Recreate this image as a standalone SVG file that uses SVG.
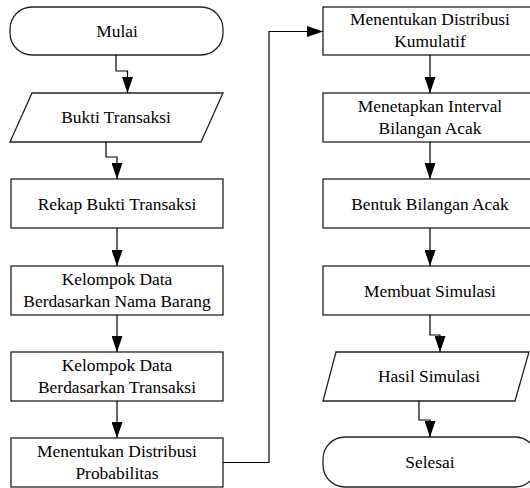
<svg xmlns="http://www.w3.org/2000/svg" width="530" height="488" viewBox="0 0 530 488">
<defs>
<marker id="ah" markerUnits="userSpaceOnUse" markerWidth="16" markerHeight="11" refX="16" refY="5.5" orient="auto">
<path d="M0,0 L16,5.5 L0,11 z" fill="#000"/>
</marker>
</defs>
<rect width="530" height="488" fill="#fff"/>
<g id="mulai"><rect fill="#fff" stroke="#222" stroke-width="1.3" x="10" y="7" width="213" height="48" rx="22"/><text font-family="Liberation Serif, Tinos, Times New Roman, serif" font-size="17.4" text-anchor="middle" x="117" y="37">Mulai</text></g>
<g id="bukti"><polygon fill="#fff" stroke="#222" stroke-width="1.3" points="32,93 223,93 201,142 10,142"/><text font-family="Liberation Serif, Tinos, Times New Roman, serif" font-size="17.4" text-anchor="middle" x="116" y="123">Bukti Transaksi</text></g>
<g id="rekap"><rect fill="#fff" stroke="#222" stroke-width="1.3" x="11" y="179" width="212" height="49"/><text font-family="Liberation Serif, Tinos, Times New Roman, serif" font-size="17.4" text-anchor="middle" x="117" y="209.5">Rekap Bukti Transaksi</text></g>
<g id="kelompok1"><rect fill="#fff" stroke="#222" stroke-width="1.3" x="11" y="266" width="212" height="49"/><text font-family="Liberation Serif, Tinos, Times New Roman, serif" font-size="17.4" text-anchor="middle" x="117" y="285">Kelompok Data</text><text font-family="Liberation Serif, Tinos, Times New Roman, serif" font-size="17.4" text-anchor="middle" x="117" y="306.5">Berdasarkan Nama Barang</text></g>
<g id="kelompok2"><rect fill="#fff" stroke="#222" stroke-width="1.3" x="11" y="352" width="212" height="49"/><text font-family="Liberation Serif, Tinos, Times New Roman, serif" font-size="17.4" text-anchor="middle" x="117" y="371">Kelompok Data</text><text font-family="Liberation Serif, Tinos, Times New Roman, serif" font-size="17.4" text-anchor="middle" x="117" y="392.5">Berdasarkan Transaksi</text></g>
<g id="probabilitas"><rect fill="#fff" stroke="#222" stroke-width="1.3" x="11" y="438" width="212" height="49"/><text font-family="Liberation Serif, Tinos, Times New Roman, serif" font-size="17.4" text-anchor="middle" x="117" y="457">Menentukan Distribusi</text><text font-family="Liberation Serif, Tinos, Times New Roman, serif" font-size="17.4" text-anchor="middle" x="117" y="478.5">Probabilitas</text></g>
<g id="kumulatif"><rect fill="#fff" stroke="#222" stroke-width="1.3" x="323" y="7" width="214" height="48"/><text font-family="Liberation Serif, Tinos, Times New Roman, serif" font-size="17.4" text-anchor="middle" x="430" y="25">Menentukan Distribusi</text><text font-family="Liberation Serif, Tinos, Times New Roman, serif" font-size="17.4" text-anchor="middle" x="430" y="46.5">Kumulatif</text></g>
<g id="interval"><rect fill="#fff" stroke="#222" stroke-width="1.3" x="323" y="93" width="214" height="49"/><text font-family="Liberation Serif, Tinos, Times New Roman, serif" font-size="17.4" text-anchor="middle" x="430" y="112">Menetapkan Interval</text><text font-family="Liberation Serif, Tinos, Times New Roman, serif" font-size="17.4" text-anchor="middle" x="430" y="133.5">Bilangan Acak</text></g>
<g id="bentuk"><rect fill="#fff" stroke="#222" stroke-width="1.3" x="323" y="179" width="214" height="49"/><text font-family="Liberation Serif, Tinos, Times New Roman, serif" font-size="17.4" text-anchor="middle" x="430" y="209.5">Bentuk Bilangan Acak</text></g>
<g id="simulasi"><rect fill="#fff" stroke="#222" stroke-width="1.3" x="323" y="266" width="214" height="49"/><text font-family="Liberation Serif, Tinos, Times New Roman, serif" font-size="17.4" text-anchor="middle" x="430" y="296.5">Membuat Simulasi</text></g>
<g id="hasil"><polygon fill="#fff" stroke="#222" stroke-width="1.3" points="336,352 529,352 515,401 323,401"/><text font-family="Liberation Serif, Tinos, Times New Roman, serif" font-size="17.4" text-anchor="middle" x="429" y="382">Hasil Simulasi</text></g>
<g id="selesai"><rect fill="#fff" stroke="#222" stroke-width="1.3" x="323" y="437" width="214" height="50" rx="22"/><text font-family="Liberation Serif, Tinos, Times New Roman, serif" font-size="17.4" text-anchor="middle" x="430" y="468">Selesai</text></g>
<g id="connectors" fill="none" stroke="#000" stroke-width="1.2">
<path d="M116,55 V71 H127.5 V93" marker-end="url(#ah)"/>
<path d="M106,142 V157 H117 V179" marker-end="url(#ah)"/>
<path d="M117,228 V266" marker-end="url(#ah)"/>
<path d="M117,315 V352" marker-end="url(#ah)"/>
<path d="M117,401 V438" marker-end="url(#ah)"/>
<path d="M223,462.5 H269 V31.5 H323" marker-end="url(#ah)"/>
<path d="M430,55 V93" marker-end="url(#ah)"/>
<path d="M430,142 V179" marker-end="url(#ah)"/>
<path d="M430,228 V266" marker-end="url(#ah)"/>
<path d="M430,315 V335 H440 V352" marker-end="url(#ah)"/>
<path d="M419,401 V420 H430 V437" marker-end="url(#ah)"/>
</g>
</svg>
